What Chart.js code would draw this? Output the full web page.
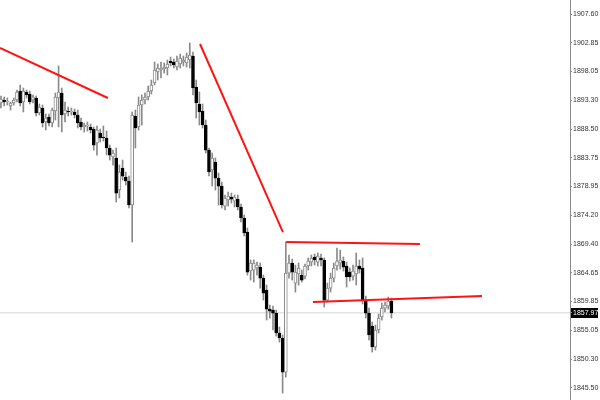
<!DOCTYPE html>
<html>
<head>
<meta charset="utf-8">
<script src="https://cdn.jsdelivr.net/npm/chart.js@4/dist/chart.umd.min.js"></script>
<style>
    html, body { margin: 0; padding: 0; background: #fff; }
    canvas { display: block; }
</style>
</head>
<body>
<canvas id="chart" width="600" height="400"></canvas>
<script>
// candle values, one entry per bar, left to right
const opens = [
    1892.82, 1893.32, 1892.99, 1892.32, 1892.82, 1893.32, 1894.81, 1892.99, 1894.65, 1894.32,
    1893.32, 1893.65, 1891.16, 1891.99, 1889.67, 1890.50, 1889.50, 1891.49, 1893.65, 1894.48,
    1891.00, 1891.49, 1891.33, 1891.33, 1890.83, 1889.67, 1888.84, 1889.00, 1888.84, 1888.50,
    1886.18, 1887.84, 1887.17, 1887.01, 1885.35, 1883.85, 1883.69, 1878.37, 1882.03, 1880.53,
    1879.87, 1875.88, 1890.66, 1888.84, 1892.49, 1893.32, 1893.82, 1894.81, 1896.14, 1897.97,
    1898.30, 1898.47, 1898.64, 1899.80, 1899.63, 1898.80, 1899.30, 1899.63, 1899.47, 1899.96,
    1900.63, 1895.48, 1892.66, 1891.49, 1889.17, 1885.01, 1881.69, 1883.02, 1880.36, 1879.03,
    1875.71, 1876.71, 1877.21, 1876.54, 1876.87, 1875.55, 1873.72, 1871.39, 1864.92, 1865.08,
    1865.42, 1865.58, 1863.75, 1861.76, 1858.60, 1858.44, 1857.94, 1854.62, 1853.79, 1848.14,
    1864.58, 1866.25, 1862.92, 1864.42, 1864.25, 1864.08, 1865.75, 1866.41, 1867.25, 1866.41,
    1867.08, 1866.75, 1860.10, 1862.09, 1863.75, 1865.75, 1866.25, 1866.58, 1865.75, 1864.75,
    1864.08, 1864.42, 1865.75, 1865.42, 1860.10, 1857.94, 1855.79, 1852.30, 1855.12, 1857.28,
    1858.77, 1859.10, 1859.93,
];

const closes = [
    1893.49, 1892.99, 1893.15, 1892.82, 1893.32, 1894.65, 1892.82, 1894.81, 1894.15, 1892.99,
    1893.82, 1891.16, 1892.16, 1889.50, 1890.33, 1889.50, 1891.66, 1893.82, 1894.65, 1890.83,
    1891.66, 1891.33, 1891.49, 1890.83, 1889.50, 1888.84, 1889.17, 1889.17, 1888.34, 1885.84,
    1888.34, 1887.01, 1887.01, 1885.35, 1884.18, 1884.52, 1877.87, 1881.36, 1880.69, 1879.87,
    1875.88, 1890.83, 1888.67, 1892.49, 1893.32, 1893.82, 1894.81, 1895.81, 1898.30, 1898.64,
    1898.64, 1898.80, 1899.30, 1899.47, 1899.13, 1899.80, 1900.30, 1899.96, 1900.46, 1900.79,
    1895.31, 1892.82, 1891.33, 1889.17, 1885.01, 1881.36, 1883.69, 1880.36, 1879.03, 1875.88,
    1877.04, 1877.38, 1876.87, 1877.21, 1875.55, 1873.72, 1871.23, 1864.75, 1866.25, 1866.25,
    1865.91, 1863.75, 1861.25, 1858.60, 1858.27, 1857.94, 1854.62, 1853.79, 1848.14, 1864.58,
    1866.25, 1864.75, 1864.75, 1865.42, 1863.42, 1865.75, 1866.58, 1867.08, 1866.75, 1867.41,
    1866.75, 1860.10, 1862.09, 1863.75, 1865.42, 1866.58, 1866.75, 1865.58, 1863.92, 1863.92,
    1864.92, 1865.75, 1865.24, 1860.10, 1857.94, 1854.29, 1852.30, 1855.12, 1857.11, 1858.77,
    1859.27, 1859.93, 1857.97,
];

const highs = [
    1893.98, 1893.82, 1893.65, 1892.99, 1893.65, 1894.98, 1895.81, 1895.31, 1894.98, 1894.81,
    1894.15, 1893.98, 1892.66, 1892.49, 1891.00, 1891.00, 1891.99, 1894.48, 1898.97, 1895.31,
    1892.99, 1892.16, 1891.99, 1891.83, 1891.66, 1890.33, 1889.50, 1889.67, 1889.33, 1888.84,
    1889.01, 1888.50, 1889.01, 1888.17, 1885.84, 1885.01, 1885.35, 1882.52, 1883.35, 1881.36,
    1880.70, 1891.33, 1891.66, 1893.82, 1894.15, 1894.48, 1895.64, 1896.64, 1899.63, 1899.30,
    1899.63, 1899.47, 1899.96, 1900.46, 1900.13, 1900.63, 1900.96, 1900.63, 1901.13, 1902.79,
    1901.29, 1896.64, 1894.65, 1892.66, 1890.00, 1885.35, 1884.52, 1883.69, 1881.19, 1879.70,
    1877.54, 1878.04, 1877.87, 1877.54, 1877.54, 1876.05, 1874.22, 1872.06, 1866.75, 1866.75,
    1866.41, 1866.25, 1864.25, 1862.59, 1859.27, 1859.10, 1858.44, 1855.62, 1854.29, 1869.73,
    1867.58, 1866.91, 1865.91, 1866.25, 1865.08, 1866.08, 1867.08, 1867.58, 1867.75, 1867.91,
    1867.75, 1867.08, 1862.92, 1864.58, 1866.25, 1868.74, 1868.40, 1867.25, 1866.41, 1865.42,
    1865.91, 1867.91, 1866.75, 1867.08, 1860.76, 1858.77, 1856.45, 1855.95, 1857.78, 1859.60,
    1859.77, 1860.60, 1860.43,
];

const lows = [
    1891.99, 1892.32, 1892.49, 1891.66, 1892.49, 1892.99, 1892.32, 1891.33, 1893.65, 1892.66,
    1892.82, 1890.66, 1890.83, 1888.84, 1888.34, 1889.00, 1888.84, 1890.00, 1888.84, 1888.01,
    1889.67, 1890.66, 1890.83, 1890.33, 1888.67, 1888.34, 1888.01, 1888.17, 1887.84, 1885.01,
    1884.17, 1886.34, 1886.51, 1884.18, 1883.35, 1882.52, 1876.38, 1877.04, 1880.03, 1879.20,
    1875.38, 1869.73, 1885.35, 1888.34, 1889.17, 1892.66, 1893.32, 1894.32, 1895.81, 1896.64,
    1896.97, 1897.80, 1897.47, 1898.97, 1898.64, 1898.30, 1898.64, 1898.97, 1898.80, 1898.64,
    1894.15, 1890.33, 1889.17, 1888.67, 1884.52, 1880.70, 1879.04, 1878.37, 1875.88, 1875.38,
    1875.05, 1875.71, 1876.21, 1875.55, 1875.05, 1873.06, 1870.73, 1864.25, 1863.42, 1863.09,
    1864.25, 1862.09, 1860.10, 1856.78, 1857.11, 1855.12, 1854.12, 1853.12, 1844.65, 1847.31,
    1863.75, 1863.42, 1861.42, 1862.59, 1863.09, 1863.59, 1865.08, 1865.75, 1865.91, 1865.75,
    1865.75, 1858.94, 1859.77, 1861.42, 1863.09, 1865.08, 1865.24, 1864.92, 1862.26, 1863.25,
    1863.42, 1862.59, 1864.58, 1859.44, 1857.11, 1853.46, 1851.47, 1851.79, 1854.62, 1856.78,
    1858.11, 1858.60, 1857.11,
];

// price labels on the right axis
const priceTicks = [
    1907.60, 1902.85, 1898.05, 1893.30, 1888.50, 1883.75, 1878.95, 1874.20,
    1869.40, 1864.65, 1859.85, 1857.97, 1855.05, 1850.30, 1845.50,
];
const lastPrice = 1857.97;

// hand-drawn trend lines: [barIndex, price] end points
const trendDown1 = [[-0.3, 1901.96], [33.4, 1893.65]];
const trendDown2 = [[62.2, 1902.62], [88.1, 1871.39]];
const rangeTop = [[89.1, 1869.73], [130.9, 1869.40]];
const rangeBottom = [[97.5, 1859.77], [150.3, 1860.77]];

const X_MIN = -0.3;
const X_MAX = 177.8;

const wicks = lows.map((low, i) => ({ x: i, y: [low, highs[i]] }));
const bodies = opens.map((open, i) => ({ x: i, y: [open, closes[i]] }));
const isDown = opens.map((open, i) => closes[i] < open);

function trendDataset(points) {
    return {
        type: 'line',
        data: points.map(([x, y]) => ({ x, y })),
        borderColor: '#ff1414',
        borderWidth: 2,
        pointRadius: 0,
        tension: 0,
        order: 0,
    };
}

const priceBox = {
    id: 'priceBox',
    beforeDraw(chart) {
        const y = chart.scales.y.getPixelForValue(lastPrice);
        const ctx = chart.ctx;
        ctx.save();
        ctx.fillStyle = '#000';
        ctx.fillRect(chart.chartArea.right + 1, Math.round(y) - 5, 27, 10);
        ctx.restore();
    },
};

new Chart(document.getElementById('chart'), {
    type: 'bar',
    data: {
        datasets: [
            {
                data: wicks,
                backgroundColor: '#8a8a8a',
                barThickness: 1,
                grouped: false,
                order: 3,
            },
            {
                data: bodies,
                backgroundColor: isDown.map((d) => (d ? '#000' : '#fff')),
                borderColor: isDown.map((d) => (d ? '#000' : '#8a8a8a')),
                borderWidth: 1,
                borderSkipped: false,
                barThickness: 3,
                grouped: false,
                order: 2,
            },
            {
                type: 'line',
                data: [{ x: X_MIN, y: lastPrice }, { x: X_MAX, y: lastPrice }],
                borderColor: '#d4d4d4',
                borderWidth: 1,
                pointRadius: 0,
                order: 4,
            },
            trendDataset(trendDown1),
            trendDataset(trendDown2),
            trendDataset(rangeTop),
            trendDataset(rangeBottom),
        ],
    },
    options: {
        responsive: false,
        maintainAspectRatio: false,
        animation: false,
        devicePixelRatio: 1,
        layout: { padding: 0 },
        plugins: {
            legend: { display: false },
            tooltip: { enabled: false },
        },
        scales: {
            x: {
                type: 'linear',
                display: false,
                offset: false,
                min: X_MIN,
                max: X_MAX,
            },
            y: {
                position: 'right',
                min: 1843.5,
                max: 1909.93,
                afterBuildTicks(scale) {
                    scale.ticks = priceTicks.map((v) => ({ value: v }));
                },
                afterFit(scale) {
                    scale.width = 30;
                    scale.paddingTop = 0;
                    scale.paddingBottom = 0;
                },
                border: { display: true, color: '#8c8c8c', width: 1 },
                grid: {
                    drawOnChartArea: false,
                    tickLength: 2,
                    color: '#8c8c8c',
                },
                ticks: {
                    autoSkip: false,
                    padding: 1,
                    font: { family: 'Liberation Sans', size: 7 },
                    color: (ctx) => (ctx.tick && ctx.tick.value === lastPrice ? '#fff' : '#333'),
                    callback: (value) => Number(value).toFixed(2),
                },
            },
        },
    },
    plugins: [priceBox],
});
</script>
</body>
</html>
